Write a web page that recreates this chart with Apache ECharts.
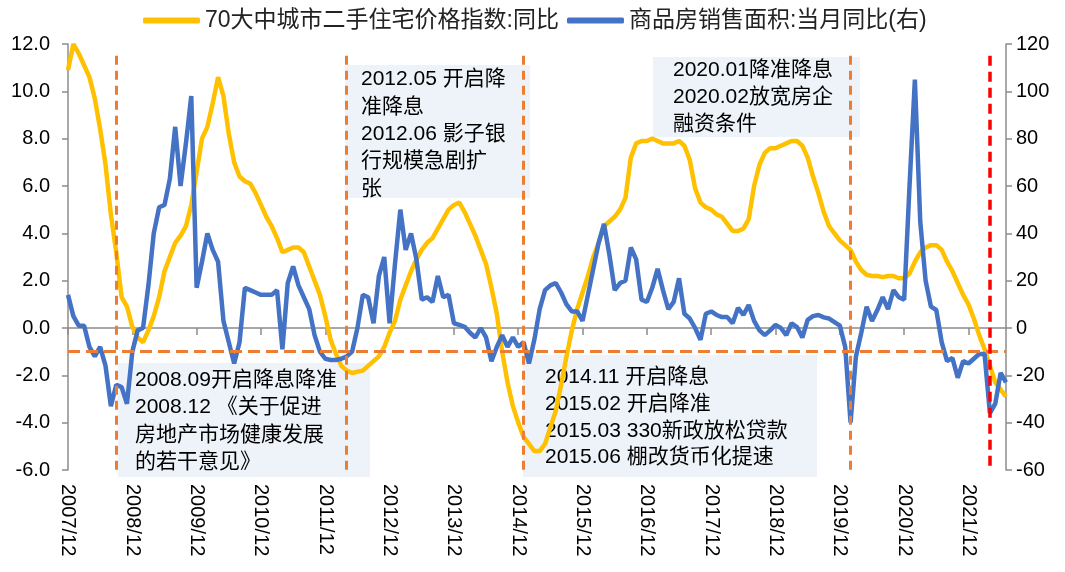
<!DOCTYPE html>
<html>
<head>
<meta charset="utf-8">
<script src="https://cdn.jsdelivr.net/npm/echarts@6/dist/echarts.min.js"></script>
<style>
  html, body { margin: 0; padding: 0; background: #fff; }
  #graph { width: 1065px; height: 572px; }
</style>
</head>
<body>
<div id="graph"></div>
<script>
var FONT = "'Liberation Sans','Noto Sans CJK SC',sans-serif";

// 月份：2007/12 - 2022/07
var months = [];
for (var y = 2007, m = 12; months.length < 176; m++) {
    if (m > 12) { m = 1; y++; }
    months.push(y + '/' + (m < 10 ? '0' + m : m));
}

var nameLeft = '70大中城市二手住宅价格指数:同比';
var nameRight = '商品房销售面积:当月同比(右)';

// 二手住宅价格指数同比（左轴，%）
var priceYoY = [10.9, 12.0, 11.6, 11.1, 10.6, 9.7, 8.4, 6.9, 4.8, 3.2,
    1.3, 0.9, 0.05, -0.4, -0.6, -0.1, 0.5, 1.3, 2.4, 3.0,
    3.6, 3.9, 4.3, 5.2, 6.6, 8.0, 8.5, 9.5, 10.6, 9.8,
    8.2, 7.0, 6.4, 6.2, 6.1, 5.7, 5.2, 4.7, 4.3, 3.8,
    3.2, 3.3, 3.4, 3.4, 3.2, 2.6, 2.0, 1.4, 0.5, -0.5,
    -1.1, -1.6, -1.8, -1.9, -1.85, -1.8, -1.6, -1.4, -1.2, -0.8,
    -0.2, 0.3, 1.2, 1.8, 2.4, 2.9, 3.3, 3.6, 3.8, 4.2,
    4.6, 5.0, 5.2, 5.3, 4.9, 4.4, 3.9, 3.3, 2.7, 1.7,
    0.6, -1.0, -2.3, -3.3, -4.0, -4.6, -4.9, -5.2, -5.2, -4.9,
    -4.2, -3.5, -2.4, -1.2, -0.1, 0.8, 1.5, 2.2, 3.0, 3.6,
    4.3, 4.5, 4.7, 5.0, 5.5, 7.2, 7.8, 7.9, 7.9, 8.0,
    7.9, 7.8, 7.8, 7.8, 7.9, 7.7, 7.1, 5.9, 5.3, 5.1,
    5.0, 4.8, 4.7, 4.4, 4.1, 4.1, 4.2, 4.6, 6.0, 6.9,
    7.4, 7.6, 7.6, 7.7, 7.8, 7.9, 7.9, 7.7, 7.2, 6.4,
    5.7, 4.9, 4.3, 4.0, 3.7, 3.5, 3.3, 2.8, 2.45, 2.25,
    2.2, 2.2, 2.15, 2.2, 2.2, 2.1, 2.1, 2.3, 2.8, 3.2,
    3.4, 3.5, 3.5, 3.3, 2.8, 2.4, 1.9, 1.4, 1.0, 0.4,
    -0.3, -0.9, -1.6, -2.3, -2.6, -2.9];

// 商品房销售面积当月同比（右轴，%）
var salesYoY = [14, 5, 1, 1, -8, -12, -8, -16, -33, -24,
    -25, -32, -10, -1, 0, 18, 40, 51, 52, 63,
    85, 60, 78, 98, 17, 28, 40, 33, 28, 3,
    -6, -15, -6, 17, 16, 15, 14, 14, 14, 16,
    -9, 19, 26, 18, 13, 8, -3, -10, -13, -13.5,
    -13.5, -13, -12, -10, 0, 14, 13, 2, 22, 30,
    2, 27, 50, 33, 40, 29, 12, 13, 11, 22,
    13, 14, 2, 1.3, 0.5, -2, -4, 0, -4, -14,
    -8, -3, -8, -4, -8, -6, -15, -5, 8, 16,
    18, 19, 15, 10, 7, 7, 3, 14, 25, 36,
    44, 31, 16, 19, 20, 34, 29, 12, 11, 17,
    25, 16, 8, 11, 21, 6, 4, 0, -5, 6,
    7, 5.5, 4.6, 4.6, 2, 8.5, 5.5, 9.7, 3, -1,
    -3, -1, 1.3, 0, -3, 2, 0.4, -4, 3.4, 5,
    5.5, 4.5, 4, 2.5, 1, -8, -40, -12, -2, 9,
    3, 7.6, 13, 8, 16, 13, 12, 60, 105, 45,
    20, 9, 7.6, -6, -14, -12.7, -21, -14, -15, -13,
    -11, -11, -36, -32, -19, -23];

// 政策节点（虚线位置）
var policyMonths = ['2008/09', '2012/04', '2015/01', '2020/02'];
var latestMonth = '2022/04';
var refLevel = -1;

var notes = [
    '2008.09开启降息降准\n2008.12 《关于促进\n房地产市场健康发展\n的若干意见》',
    '2012.05 开启降\n准降息\n2012.06 影子银\n行规模急剧扩\n张',
    '2014.11 开启降息\n2015.02 开启降准\n2015.03 330新政放松贷款\n2015.06 棚改货币化提速',
    '2020.01降准降息\n2020.02放宽房企\n融资条件'
];

var chart = echarts.init(document.getElementById('graph'));

function noteBox(text, left, top, w, h, tx, ty, lh) {
    return {
        type: 'group', left: left, top: top, z: 100,
        children: [
            { type: 'rect', shape: { x: 0, y: 0, width: w, height: h },
              style: { fill: 'rgba(222,231,243,0.5)' } },
            { type: 'text', x: tx, y: ty,
              style: { text: text, fill: '#000', fontSize: 21, fontFamily: FONT, lineHeight: lh } }
        ]
    };
}

// 竖线从 11.5 画到横轴底部
function vLine(m, color, dash) {
    var st = { color: color, type: dash, width: 3 };
    return [{ coord: [m, 11.5], lineStyle: st }, { coord: [m, -6] }];
}

var orangeLines = policyMonths.map(function (m) { return vLine(m, '#ED7D31', [9, 6]); });
orangeLines.push({ yAxis: refLevel, lineStyle: { color: '#ED7D31', type: [12, 6], width: 3 } });

chart.setOption({
    animation: false,
    textStyle: { fontFamily: FONT },
    legend: {
        left: 138, top: 4,
        icon: 'roundRect',
        itemWidth: 57, itemHeight: 6, itemGap: 8,
        textStyle: { fontSize: 23, color: '#222', fontFamily: FONT },
        data: [nameLeft, nameRight]
    },
    grid: { left: 68, right: 59, top: 44, bottom: 102 },
    xAxis: [{
        type: 'category', data: months, boundaryGap: false, position: 'bottom',
        axisLine: { show: false, onZero: false },
        axisTick: { show: false },
        axisLabel: { interval: 11, rotate: -90, margin: 14, fontSize: 20, color: '#000' }
    }, {
        type: 'category', data: months, boundaryGap: false, position: 'bottom',
        axisLine: { show: true, onZero: true, onZeroAxisIndex: 0, lineStyle: { color: '#8c8c8c', width: 1.5 } },
        axisTick: { show: true, interval: 11, length: 7, lineStyle: { color: '#8c8c8c', width: 1.5 } },
        axisLabel: { show: false }
    }],
    yAxis: [{
        type: 'value', min: -6, max: 12, interval: 2,
        splitLine: { show: false },
        axisLine: { show: true, lineStyle: { color: '#8c8c8c', width: 1.5 } },
        axisTick: { show: true, length: 6, lineStyle: { color: '#8c8c8c', width: 1.5 } },
        axisLabel: { margin: 18, fontSize: 20, color: '#000',
            formatter: function (v) { return v.toFixed(1); } }
    }, {
        type: 'value', min: -60, max: 120, interval: 20,
        splitLine: { show: false },
        axisLine: { show: true, lineStyle: { color: '#8c8c8c', width: 1.5 } },
        axisTick: { show: true, length: 6, lineStyle: { color: '#8c8c8c', width: 1.5 } },
        axisLabel: { margin: 10, fontSize: 20, color: '#000' }
    }],
    series: [{
        name: nameLeft, type: 'line', data: priceYoY,
        xAxisIndex: 0, yAxisIndex: 0,
        showSymbol: false, color: '#FFC000',
        lineStyle: { width: 4.5, color: '#FFC000' },
        markLine: { silent: true, symbol: 'none', label: { show: false }, data: orangeLines }
    }, {
        name: nameRight, type: 'line', data: salesYoY,
        xAxisIndex: 0, yAxisIndex: 1,
        showSymbol: false, color: '#4472C4',
        lineStyle: { width: 4.5, color: '#4472C4' },
        markLine: {
            silent: true, symbol: 'none', label: { show: false },
            data: [[{ coord: [latestMonth, 115], lineStyle: { color: '#FF0000', type: [10, 6], width: 3.5 } },
                    { coord: [latestMonth, -60] }]]
        }
    }],
    graphic: [
        noteBox(notes[0], 118, 363, 252, 114, 17, 3, 27.5),
        noteBox(notes[1], 345, 65, 185, 133, 16, 1, 27.3),
        noteBox(notes[2], 523, 355, 294, 122, 22, 9, 26.7),
        noteBox(notes[3], 653, 57, 207, 80, 20, 0, 27)
    ]
});
</script>
</body>
</html>
